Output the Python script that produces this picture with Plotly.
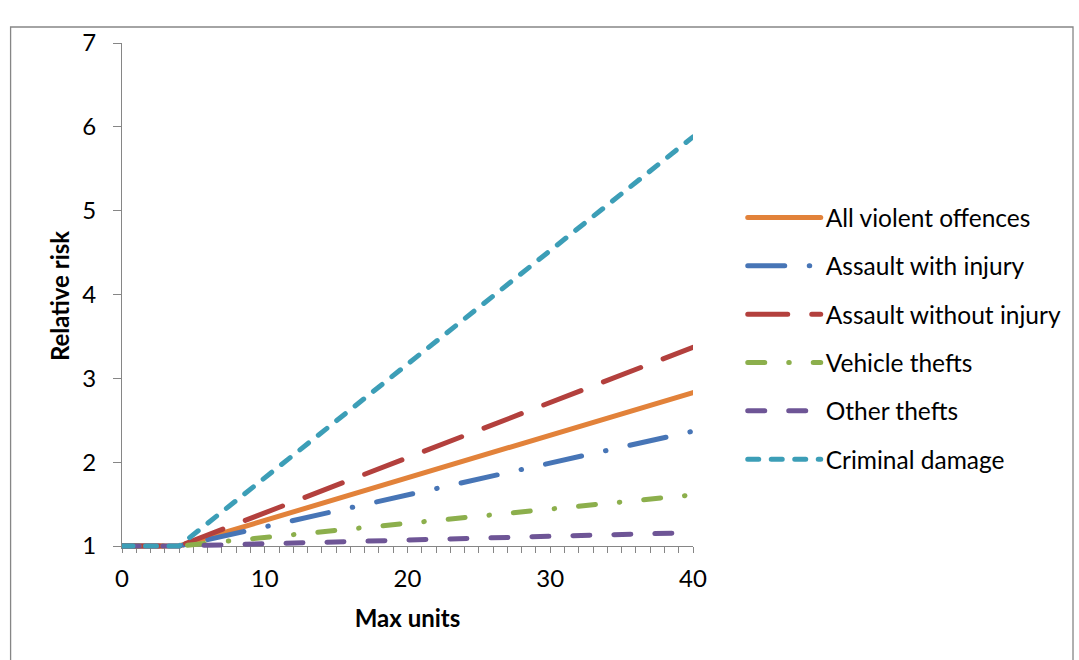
import plotly.graph_objects as go

# Relative risk of offence types by maximum units consumed
max_units = [0, 4, 40]

series_names = [
    "All violent offences",
    "Assault with injury",
    "Assault without injury",
    "Vehicle thefts",
    "Other thefts",
    "Criminal damage",
]
all_violent = [1.0, 1.0, 2.83]
assault_with_injury = [1.0, 1.0, 2.37]
assault_without_injury = [1.0, 1.0, 3.37]
vehicle_thefts = [1.0, 1.0, 1.61]
other_thefts = [1.0, 1.0, 1.16]
criminal_damage = [1.0, 1.0, 5.88]

x_tick_values = [0, 10, 20, 30, 40]
x_tick_labels = ["0", "10", "20", "30", "40"]
y_tick_values = [1, 2, 3, 4, 5, 6, 7]
y_tick_labels = ["1", "2", "3", "4", "5", "6", "7"]

# line styles (dash arrays assume round caps, width 5)
styles = [
    dict(color="#E2823A", dash="solid"),
    dict(color="#4775B6", dash="37px,24.5px,0.5px,24.5px"),
    dict(color="#B3403D", dash="40px,24px"),
    dict(color="#8CAF4C", dash="17px,24px,0.5px,24px"),
    dict(color="#6E5596", dash="17px,24px"),
    dict(color="#3C9EB7", dash="11px,12.5px"),
]
values = [all_violent, assault_with_injury, assault_without_injury,
          vehicle_thefts, other_thefts, criminal_damage]

W, H = 1079, 660
PL, PR, PT, PB = 122, 696, 43, 549  # plot area in pixels
pad_px = 3                           # room below y=1 so lines are not clipped
unit_px = (546 - 43) / 6.0
y_low = 1 - pad_px / unit_px

fig = go.Figure()
for name, ys, st in zip(series_names, values, styles):
    fig.add_trace(go.Scatter(
        x=max_units, y=ys, mode="lines", name=name, legendgroup=name,
        line=dict(color=st["color"], width=5, dash=st["dash"]),
        hoverinfo="skip",
    ))

font_family = "Lato, Calibri, Carlito, sans-serif"
axis_grey = "#868686"

def px_x(p):
    return (p - PL) / (PR - PL)

def px_y(p):
    return (PB - p) / (PB - PT)

fig.update_layout(
    width=W, height=H,
    margin=dict(l=PL, r=W - PR, t=PT, b=H - PB, pad=0),
    paper_bgcolor="white", plot_bgcolor="white",
    font=dict(family=font_family, color="black", size=24),
    showlegend=True,
    legend=dict(
        x=px_x(746), y=px_y(195), xanchor="left", yanchor="top",
        font=dict(size=24.5, family=font_family),
        itemwidth=73, tracegroupgap=13.5,
        bgcolor="rgba(0,0,0,0)",
    ),
    xaxis=dict(
        range=[0, 40], anchor="free", position=pad_px / (PB - PT),
        tickmode="array", tickvals=x_tick_values, ticktext=x_tick_labels,
        ticks="outside", ticklen=6, tickwidth=1.3, tickcolor=axis_grey,
        minor=dict(dtick=1, ticks="outside", ticklen=6, tickwidth=1.3, tickcolor=axis_grey, showgrid=False),
        showline=True, linecolor=axis_grey, linewidth=1.3,
        showgrid=False, zeroline=False, layer="below traces",
        ticklabelstandoff=5,
        tickfont=dict(size=24, family=font_family),
        title=dict(text="<b>Max units</b>", font=dict(size=24, family=font_family), standoff=19),
    ),
    yaxis=dict(
        range=[y_low, 7],
        tickmode="array", tickvals=y_tick_values, ticktext=y_tick_labels,
        ticks="outside", ticklen=8, tickwidth=1.3, tickcolor=axis_grey,
        showline=True, linecolor=axis_grey, linewidth=1.3,
        showgrid=False, zeroline=False, layer="below traces",
        ticklabelstandoff=12,
        tickfont=dict(size=24, family=font_family),
        title=dict(text="<b>Relative risk</b>", font=dict(size=24, family=font_family), standoff=5),
    ),
    shapes=[dict(
        type="rect", xref="paper", yref="paper",
        x0=px_x(10), x1=px_x(1078), y0=px_y(668), y1=px_y(27),
        line=dict(color=axis_grey, width=1.3), layer="below",
    )],
)

round_caps = ("var s=document.createElement('style');"
              "s.textContent='.js-line{stroke-linecap:round;}';"
              "document.head.appendChild(s);")
fig.write_html("out.html", post_script=round_caps)
